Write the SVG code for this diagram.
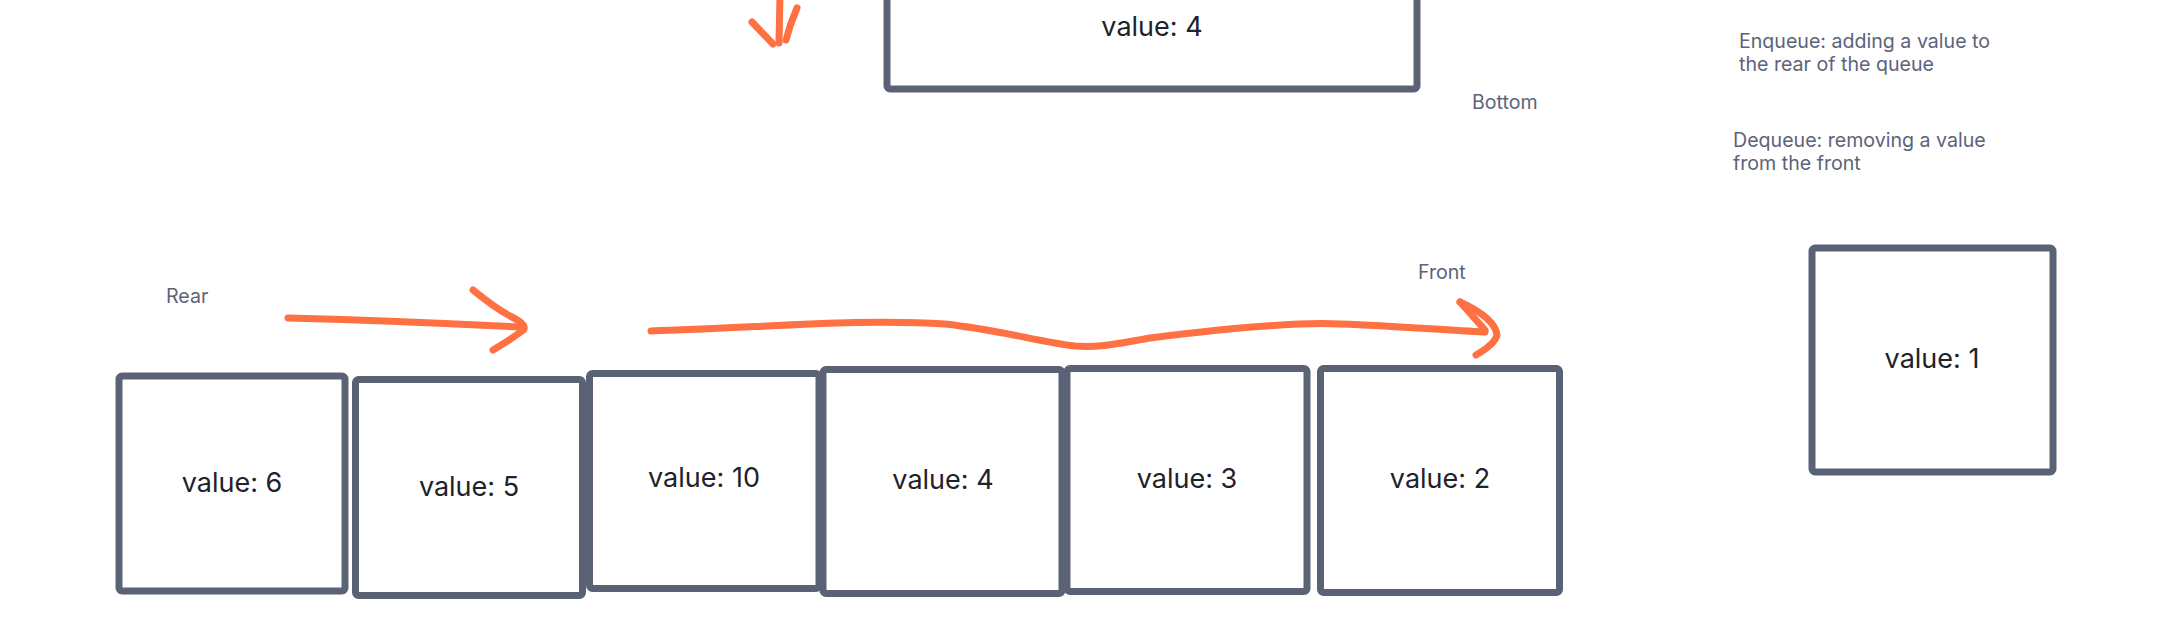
<svg xmlns="http://www.w3.org/2000/svg" width="2163" height="627" viewBox="0 0 2163 627">
<style>
.box{fill:#ffffff;stroke:#5a6376;stroke-width:7;stroke-linejoin:round}
.val{font-family:Inter,"Liberation Sans",sans-serif;font-size:27px;fill:#1e222b;text-anchor:middle}
.lbl{font-family:Inter,"Liberation Sans",sans-serif;font-size:19.6px;fill:#5b6478}
.arr{fill:none;stroke:#ff7043;stroke-width:7;stroke-linecap:round;stroke-linejoin:round}
</style>
<rect width="2163" height="627" fill="#ffffff"/>
<g id="node-top4">
<rect class="box" x="887" y="-20" width="530" height="109" rx="3"/>
<text class="val" x="1152" y="36">value: 4</text>
</g>
<g id="node-v6">
<rect class="box" x="119" y="376" width="226" height="215" rx="3"/>
<text class="val" x="232" y="492">value: 6</text>
</g>
<g id="node-v5">
<rect class="box" x="355.5" y="379.5" width="227" height="216" rx="3"/>
<text class="val" x="469" y="496">value: 5</text>
</g>
<g id="node-v10">
<rect class="box" x="589.5" y="373.5" width="229.5" height="215" rx="3"/>
<text class="val" x="704" y="487">value: 10</text>
</g>
<g id="node-v4">
<rect class="box" x="823" y="369.5" width="239" height="224" rx="3"/>
<text class="val" x="943" y="489">value: 4</text>
</g>
<g id="node-v3">
<rect class="box" x="1067" y="368.5" width="240" height="223" rx="3"/>
<text class="val" x="1187" y="488">value: 3</text>
</g>
<g id="node-v2">
<rect class="box" x="1320.5" y="368.5" width="239" height="224" rx="3"/>
<text class="val" x="1440" y="488">value: 2</text>
</g>
<g id="node-v1">
<rect class="box" x="1812" y="248" width="241" height="224" rx="3"/>
<text class="val" x="1932" y="368">value: 1</text>
</g>
<g id="labels">
<text class="lbl" x="166" y="303">Rear</text>
<text class="lbl" x="1418" y="279">Front</text>
<text class="lbl" x="1472" y="109">Bottom</text>
<text class="lbl" x="1739" y="48">Enqueue: adding a value to</text>
<text class="lbl" x="1739" y="71">the rear of the queue</text>
<text class="lbl" x="1733" y="147">Dequeue: removing a value</text>
<text class="lbl" x="1733" y="170">from the front</text>
</g>
<g id="connectors">
<path class="arr" d="M780 -5 L779 43"/>
<path class="arr" d="M752 22 L773 44"/>
<path class="arr" d="M797 8 Q790 24 786 40"/>
<path class="arr" d="M288 318 Q400 321 520 327"/>
<path class="arr" d="M473 290 Q495 308 510 316 Q530 326 522 331 Q510 340 493 350"/>
<path class="arr" d="M651 331 C760 328 860 318 945 324 C1000 330 1040 342 1075 346 C1100 348 1120 343 1150 338 C1230 328 1300 322 1340 324 C1400 326 1440 330 1485 332"/>
<path class="arr" d="M1460 302 L1485 330"/>
<path class="arr" d="M1460 302 Q1495 318 1497 335 Q1495 344 1476 355"/>
</g>
</svg>
